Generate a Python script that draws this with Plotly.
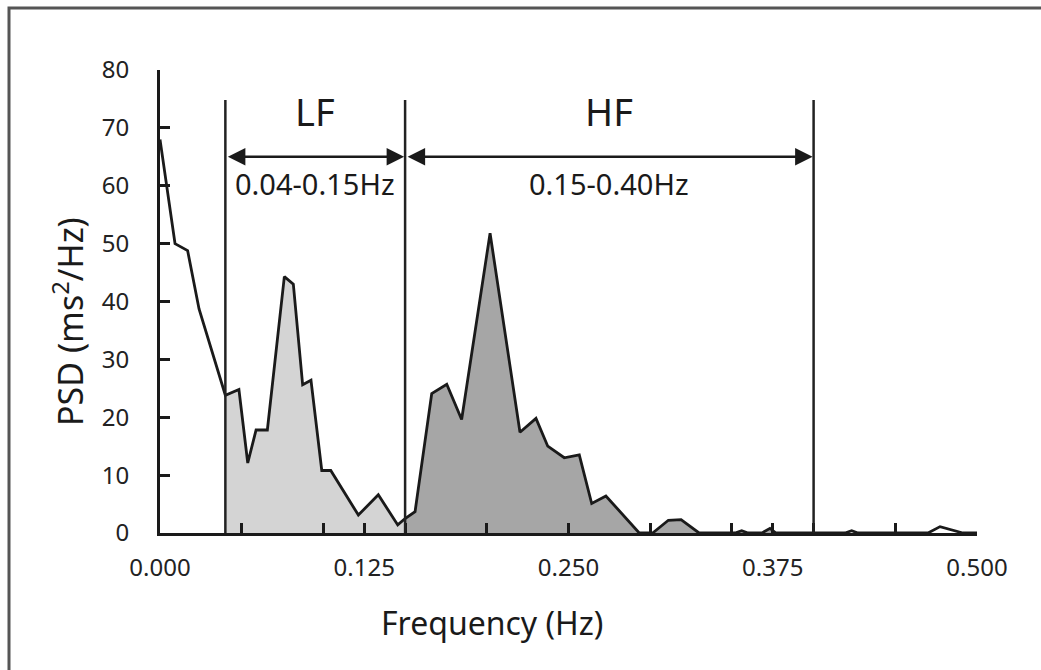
import plotly.graph_objects as go

# ---- data ----
freq = [0.000, 0.0092, 0.0169, 0.0239, 0.040, 0.0483, 0.0537, 0.0588, 0.0657,
        0.0761, 0.0816, 0.0873, 0.0924, 0.0990, 0.1045, 0.1214, 0.1336, 0.1455,
        0.150, 0.1561, 0.1663, 0.1755, 0.1846, 0.2020, 0.2203, 0.2301, 0.2373,
        0.2474, 0.2566, 0.2642, 0.2729, 0.2933, 0.3015, 0.3111, 0.3189, 0.3299,
        0.3519, 0.3560, 0.3599, 0.3684, 0.3733, 0.3770, 0.400, 0.4192, 0.4233,
        0.4272, 0.4700, 0.4774, 0.4914, 0.500]
psd = [68.0, 50.0, 48.8, 38.7, 23.8, 24.8, 12.1, 17.8, 17.8,
       44.3, 43.0, 25.6, 26.4, 10.8, 10.8, 3.1, 6.6, 1.4,
       2.5, 3.7, 24.1, 25.7, 19.6, 51.8, 17.4, 19.8, 15.0,
       13.0, 13.5, 5.1, 6.4, 0.0, 0.0, 2.2, 2.3, 0.0,
       0.0, 0.4, 0.0, 0.0, 0.8, 0.0, 0.0, 0.0, 0.4,
       0.0, 0.0, 1.1, 0.0, 0.0]

lf_band = (0.04, 0.15)
hf_band = (0.15, 0.40)
band_labels = ["LF", "HF"]
band_ranges = ["0.04-0.15Hz", "0.15-0.40Hz"]

x_tickvals = [0, 0.05, 0.1, 0.125, 0.15, 0.2, 0.25, 0.3, 0.35, 0.375, 0.4, 0.45, 0.5]
x_labeled = [0.0, 0.125, 0.25, 0.375, 0.5]
y_tickvals = [0, 10, 20, 30, 40, 50, 60, 70, 80]

FONT = "Noto Sans"
INK = "#1a1a1a"
L, R, T, B = 160, 64, 70, 137
PW, PH = 1041 - L - R, 670 - T - B


def band(lo, hi):
    xs, ys = [], []
    for f, v in zip(freq, psd):
        if lo - 1e-9 <= f <= hi + 1e-9:
            xs.append(f)
            ys.append(v)
    return xs, ys


fig = go.Figure()

for (lo, hi), col in [(lf_band, "#d4d4d4"), (hf_band, "#a6a6a6")]:
    bx, by = band(lo, hi)
    fig.add_trace(go.Scatter(x=bx, y=by, mode="lines", fill="tozeroy",
                             fillcolor=col, line=dict(width=0, color=col),
                             hoverinfo="skip", showlegend=False))

fig.add_trace(go.Scatter(x=freq, y=psd, mode="lines",
                         line=dict(color=INK, width=2.8), showlegend=False))

# empty trace so the label-only overlay axes get drawn
fig.add_trace(go.Scatter(x=[], y=[], xaxis="x2", yaxis="y2", mode="lines",
                         showlegend=False, hoverinfo="skip"))

# vertical band boundaries
for xv in [lf_band[0], lf_band[1], hf_band[1]]:
    fig.add_shape(type="line", xref="x", yref="y", x0=xv, x1=xv, y0=0, y1=74.8,
                  line=dict(color="#222222", width=2.5))

# arrows and labels
arrow_y = 65
for (lo, hi), lab, rng in zip([lf_band, hf_band], band_labels, band_ranges):
    fig.add_annotation(x=hi, y=arrow_y, ax=lo, ay=arrow_y, xref="x", yref="y",
                       axref="x", ayref="y", text="", showarrow=True,
                       arrowhead=2, arrowside="end+start", arrowsize=1.4,
                       arrowwidth=2.5, arrowcolor=INK, standoff=1, startstandoff=1)
    mid = (lo + hi) / 2
    fig.add_annotation(x=mid, y=72.9, xref="x", yref="y", text=lab, showarrow=False,
                       font=dict(family=FONT, size=38, color=INK), yanchor="middle")
    fig.add_annotation(x=mid, y=60.4, xref="x", yref="y", text=rng, showarrow=False,
                       font=dict(family=FONT, size=29, color=INK), yanchor="middle")

# axis titles
fig.add_annotation(xref="paper", yref="paper", x=(492 - L) / PW, y=(670 - B - 622) / PH,
                   text="Frequency (Hz)", showarrow=False, xanchor="center", yanchor="middle",
                   font=dict(family=FONT, size=32, color=INK))
fig.add_annotation(xref="paper", yref="paper", x=(68 - L) / PW, y=(670 - B - 322) / PH,
                   text="PSD (ms<sup>2</sup>/Hz)", showarrow=False, textangle=-90,
                   xanchor="center", yanchor="middle",
                   font=dict(family=FONT, size=34, color=INK))

# outer frame (image is cropped on right/bottom)
fig.add_shape(type="rect", xref="paper", yref="paper",
              x0=(9 - L) / PW, x1=1.2, y0=-0.5, y1=(670 - B - 8) / PH,
              line=dict(color="#555555", width=3), fillcolor="rgba(0,0,0,0)")

tick_common = dict(showgrid=False, zeroline=False)

fig.update_layout(
    width=1041, height=670,
    margin=dict(l=L, r=R, t=T, b=B),
    plot_bgcolor="white", paper_bgcolor="white",
    font=dict(family=FONT, color=INK),
    xaxis=dict(range=[0, 0.5], tickvals=x_tickvals, showticklabels=False,
               ticks="inside", ticklen=10, tickwidth=2.5, tickcolor=INK,
               showline=True, linecolor=INK, linewidth=2.8, **tick_common),
    yaxis=dict(range=[0, 80], tickvals=y_tickvals, showticklabels=False,
               ticks="inside", ticklen=10, tickwidth=2.5, tickcolor=INK,
               showline=True, linecolor=INK, linewidth=2.8, **tick_common),
    xaxis2=dict(range=[0, 0.5], overlaying="x", anchor="y2", side="bottom",
                tickvals=x_labeled, ticktext=[f"{v:.3f}" for v in x_labeled],
                ticks="outside", ticklen=13, tickcolor="rgba(0,0,0,0)",
                showline=False, tickfont=dict(size=24, color="#222"), **tick_common),
    yaxis2=dict(range=[0, 80], overlaying="y", anchor="x2", side="left",
                tickvals=y_tickvals, ticks="outside", ticklen=25,
                tickcolor="rgba(0,0,0,0)", showline=False,
                tickfont=dict(size=24, color="#222"), **tick_common),
)

fig.write_html("out.html")
